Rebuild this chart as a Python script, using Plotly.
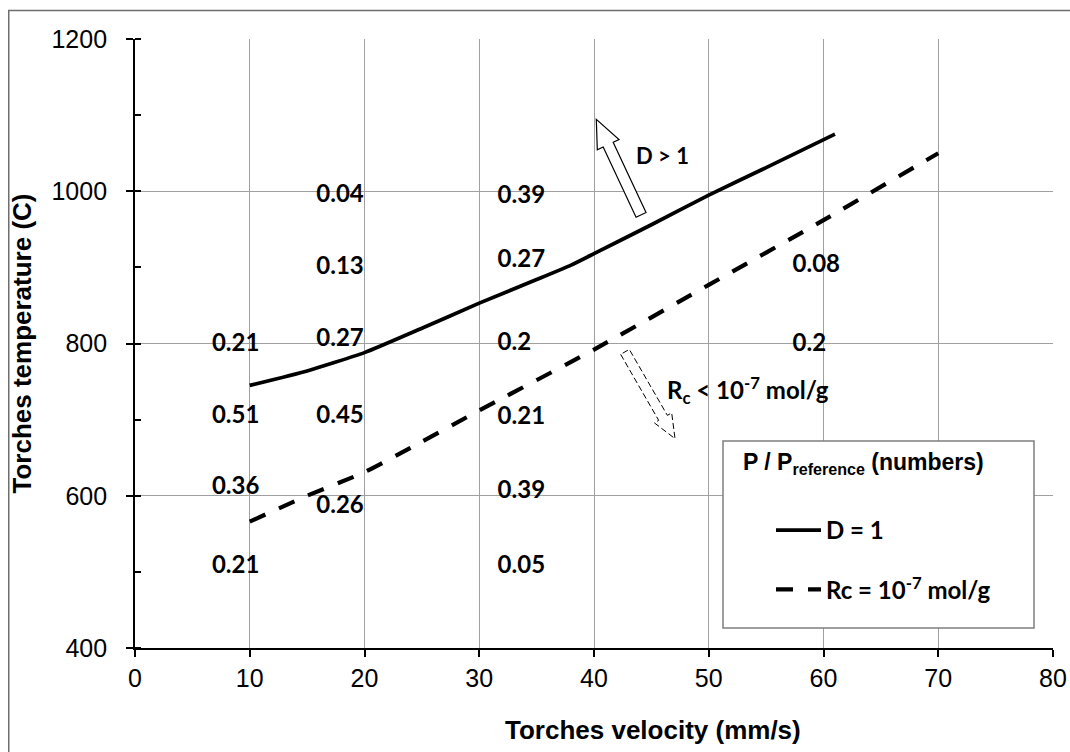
import math
import plotly.graph_objects as go

# ---------------- data ----------------
velocity_D1 = [10, 15, 20, 25, 30, 35, 38, 40, 45, 50, 55, 61]
temperature_D1 = [745, 764, 788, 820, 853, 884, 903, 918, 956, 995, 1031, 1075]

velocity_Rc = [10, 15, 20, 25, 30, 40, 50, 60, 70]
temperature_Rc = [566, 600, 631, 671, 712, 792, 877, 962, 1050]

ratio_text = ["0.21", "0.51", "0.36", "0.21",
              "0.04", "0.13", "0.27", "0.45", "0.26",
              "0.39", "0.27", "0.2", "0.21", "0.39", "0.05",
              "0.08", "0.2"]
ratio_velocity = [6.7, 6.7, 6.7, 6.7,
                  15.8, 15.8, 15.8, 15.8, 15.8,
                  31.6, 31.6, 31.6, 31.6, 31.6, 31.6,
                  57.3, 57.3]
ratio_temperature = [798, 704, 610, 506,
                     994, 899, 805, 704, 585,
                     993, 909, 799, 702, 605, 506,
                     902, 798]

x_ticks = [0, 10, 20, 30, 40, 50, 60, 70, 80]
y_ticks = [400, 600, 800, 1000, 1200]

series_names = ["D = 1", "Rc = 10<sup>-7</sup> mol/g"]
legend_title = "<b>P / P<sub>reference</sub> (numbers)</b>"

# ---------------- layout geometry ----------------
OFF = 0                       # body margin removed by post_script
W, H = 1070, 752
ML, MR, MT, MB = 135, 17, 39, 104
PW, PH = W - ML - MR, H - MT - MB
XR, YR = [0, 80], [400, 1200]
SX = PW / (XR[1] - XR[0])
SY = PH / (YR[1] - YR[0])


def px_to_paper(px, py):
    """screen pixel -> paper coordinates"""
    return (px - OFF - ML) / PW, (OFF + H - MB - py) / PH


def block_arrow(tail, tip, hw_shaft, hw_head, head_len):
    tx, ty = tail[0] * SX, -tail[1] * SY
    px, py = tip[0] * SX, -tip[1] * SY
    dx, dy = px - tx, py - ty
    L = math.hypot(dx, dy)
    ux, uy = dx / L, dy / L
    nx, ny = -uy, ux
    bx, by = px - ux * head_len, py - uy * head_len
    pts = [
        (tx + nx * hw_shaft, ty + ny * hw_shaft),
        (bx + nx * hw_shaft, by + ny * hw_shaft),
        (bx + nx * hw_head, by + ny * hw_head),
        (px, py),
        (bx - nx * hw_head, by - ny * hw_head),
        (bx - nx * hw_shaft, by - ny * hw_shaft),
        (tx - nx * hw_shaft, ty - ny * hw_shaft),
    ]
    pts = [(x / SX, -y / SY) for x, y in pts]
    return "M " + " L ".join(f"{x:.4f},{y:.4f}" for x, y in pts) + " Z"


TXT = "Liberation Sans, Arial, sans-serif"
CAL = "Lato, 'Open Sans', sans-serif"

fig = go.Figure()

fig.add_trace(go.Scatter(
    x=velocity_D1, y=temperature_D1, mode="lines", name=series_names[0],
    line=dict(color="black", width=3.7, shape="spline", smoothing=0.5),
    legendgroup="a",
))
fig.add_trace(go.Scatter(
    x=velocity_Rc, y=temperature_Rc, mode="lines", name=series_names[1],
    line=dict(color="black", width=4.2, dash="17px,15px", shape="spline", smoothing=0.5),
    legendgroup="b",
))
fig.add_trace(go.Scatter(
    x=ratio_velocity, y=ratio_temperature, mode="text", text=ratio_text,
    textposition="middle right", showlegend=False, cliponaxis=False,
    textfont=dict(family=CAL, size=24, color="black", weight="bold"),
    hoverinfo="skip",
))

shapes = []
# outer chart border (left and top visible)
bx0, by0 = px_to_paper(8.75, 10.5)
shapes.append(dict(type="rect", xref="paper", yref="paper", x0=bx0, y0=-0.5, x1=1.5, y1=by0,
                   line=dict(color="#6e6e6e", width=1.5), fillcolor="rgba(0,0,0,0)", layer="below"))
# legend box
lx0, ly1 = px_to_paper(723, 441)
lx1, ly0 = px_to_paper(1034, 628)
shapes.append(dict(type="rect", xref="paper", yref="paper", x0=lx0, y0=ly0, x1=lx1, y1=ly1,
                   line=dict(color="#7f7f7f", width=1.5), fillcolor="white", layer="above"))
# D > 1 arrow (hollow)
shapes.append(dict(type="path", xref="x", yref="y",
                   path=block_arrow((44.1, 969), (40.2, 1094.5), 5.5, 12, 28),
                   line=dict(color="black", width=1.2), fillcolor="white", layer="above"))
# Rc arrow (dashed hollow)
shapes.append(dict(type="path", xref="x", yref="y",
                   path=block_arrow((42.7, 789), (47.06, 675), 5, 10, 24),
                   line=dict(color="black", width=1, dash="6px,3px"), fillcolor="white", layer="above"))

annotations = [
    dict(x=46.0, y=1047.6, xref="x", yref="y", text="D > 1", showarrow=False,
         font=dict(family=CAL, size=22, color="black", weight="bold")),
    dict(x=53.4, y=738.5, xref="x", yref="y", text="R<sub>c</sub> &lt; 10<sup>-7</sup> mol/g",
         showarrow=False, font=dict(family=CAL, size=24, color="black", weight="bold")),
]
tx, ty = px_to_paper(652.5, 730)
annotations.append(dict(x=tx, y=ty, xref="paper", yref="paper", text="<b>Torches velocity (mm/s)</b>",
                        showarrow=False, xanchor="center", yanchor="middle",
                        font=dict(family=TXT, size=26, color="black")))
# legend title
ltx, lty = px_to_paper(741, 463)
annotations.append(dict(x=ltx, y=lty, xref="paper", yref="paper", text=legend_title,
                        showarrow=False, xanchor="left", yanchor="middle",
                        font=dict(family=TXT, size=23, color="black")))

legx, legy = px_to_paper(771, 508)

fig.update_layout(
    width=W, height=H,
    margin=dict(l=ML, r=MR, t=MT, b=MB, autoexpand=False),
    paper_bgcolor="white", plot_bgcolor="white",
    shapes=shapes, annotations=annotations,
    showlegend=True,
    legend=dict(
        x=legx, y=legy, xanchor="left", yanchor="top",
        bgcolor="rgba(0,0,0,0)", borderwidth=0,
        font=dict(family=CAL, size=24, color="black", weight="bold"),
        tracegroupgap=25, itemwidth=45,
    ),
    xaxis=dict(
        range=XR, tickvals=x_ticks, ticktext=[str(v) for v in x_ticks],
        showgrid=True, gridcolor="#a0a0a0", gridwidth=1,
        showline=True, linecolor="black", linewidth=1.8,
        ticks="outside", ticklen=7, tickwidth=1.5, tickcolor="black",
        tickfont=dict(family=TXT, size=25, color="black"),
        zeroline=False, mirror=False,
    ),
    yaxis=dict(
        range=YR, tickvals=y_ticks, ticktext=[str(v) for v in y_ticks],
        showgrid=True, gridcolor="#a0a0a0", gridwidth=1,
        showline=True, linecolor="black", linewidth=1.8,
        ticks="outside", ticklen=7, tickwidth=1.5, tickcolor="black",
        tickfont=dict(family=TXT, size=25, color="black"),
        ticklabelstandoff=14,
        minor=dict(dtick=100, ticks="inside", ticklen=6, tickwidth=1.5, tickcolor="black", showgrid=False),
        title=dict(text="<b>Torches temperature (C)</b>", font=dict(family=TXT, size=26, color="black"),
                   standoff=12),
        zeroline=False,
    ),
)

post = ("document.body.style.margin='0';document.body.style.padding='0';"
        "document.documentElement.style.overflow='hidden';document.body.style.overflow='hidden';")
fig.write_html("out.html", post_script=post, config={"displayModeBar": False})
